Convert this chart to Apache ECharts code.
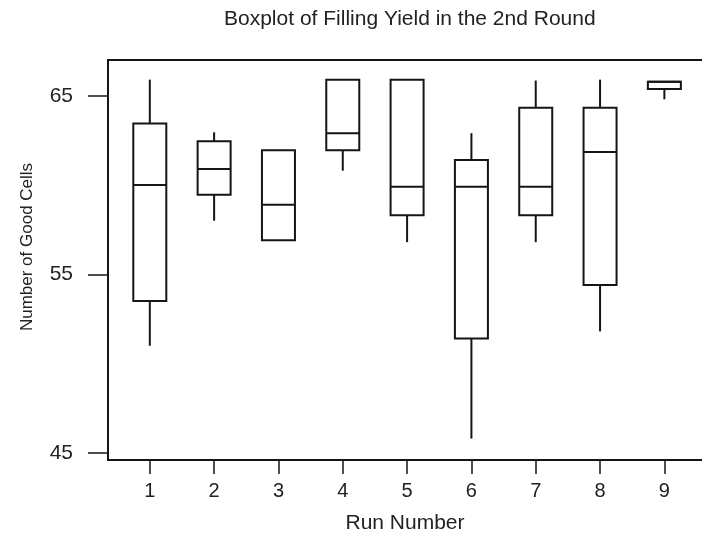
<!DOCTYPE html>
<html><head><meta charset="utf-8">
<script src="https://cdn.jsdelivr.net/npm/echarts@6/dist/echarts.min.js"></script>
<style>html,body{margin:0;padding:0;background:#fff}#c{width:702px;height:540px}</style>
</head><body><div id="c"></div>
<script>
const runs = [1, 2, 3, 4, 5, 6, 7, 8, 9];
const whiskerLow  = [51.0, 58.0, 56.9, 60.8, 56.8, 45.8, 56.8, 51.8, 64.8];
const q1          = [53.5, 59.45, 56.9, 61.95, 58.3, 51.4, 58.3, 54.4, 65.38];
const median      = [60.0, 60.9, 58.9, 62.9, 59.9, 59.9, 59.9, 61.85, 65.78];
const q3          = [63.45, 62.45, 61.95, 65.9, 65.9, 61.4, 64.33, 64.33, 65.78];
const whiskerHigh = [65.9, 62.95, 61.95, 65.9, 65.9, 62.9, 65.85, 65.9, 65.78];
const yTicks = [45, 55, 65];

const ink = '#151515';
const font = 'Liberation Sans';
const data = runs.map((r, i) => [r, whiskerLow[i], q1[i], median[i], q3[i], whiskerHigh[i]]);

function renderItem(params, api) {
  const x = api.value(0);
  const pLow = api.coord([x, api.value(1)]);
  const pQ1 = api.coord([x, api.value(2)]);
  const pMed = api.coord([x, api.value(3)]);
  const pQ3 = api.coord([x, api.value(4)]);
  const pHigh = api.coord([x, api.value(5)]);
  const half = 16.5;
  const st = { stroke: ink, lineWidth: 2, fill: null };
  return {
    type: 'group',
    children: [
      { type: 'line', shape: { x1: pQ3[0], y1: pQ3[1], x2: pHigh[0], y2: pHigh[1] }, style: st },
      { type: 'line', shape: { x1: pLow[0], y1: pLow[1], x2: pQ1[0], y2: pQ1[1] }, style: st },
      { type: 'rect', shape: { x: pQ1[0] - half, y: pQ3[1], width: 2 * half, height: pQ1[1] - pQ3[1] },
        style: { stroke: ink, lineWidth: 2, fill: '#fff' } },
      { type: 'line', shape: { x1: pMed[0] - half, y1: pMed[1], x2: pMed[0] + half, y2: pMed[1] }, style: st }
    ]
  };
}

const chart = echarts.init(document.getElementById('c'), null, { renderer: 'canvas' });
chart.setOption({
  animation: false,
  backgroundColor: '#fff',
  title: {
    text: 'Boxplot of Filling Yield in the 2nd Round',
    left: 219, top: 4,
    textStyle: { fontFamily: font, fontSize: 21, fontWeight: 'normal', color: '#222' }
  },
  grid: { left: 108, top: 60, right: 0, height: 400 },
  xAxis: [{
    type: 'value', min: 0.35, max: 9.585,
    name: 'Run Number', nameLocation: 'middle', nameGap: 53,
    nameTextStyle: { fontFamily: font, fontSize: 21, color: '#222' },
    axisLine: { show: true, lineStyle: { color: ink, width: 2 } },
    axisTick: { show: true, customValues: runs, length: 14, lineStyle: { color: ink, width: 1.5 } },
    axisLabel: { customValues: runs, margin: 21, fontFamily: font, fontSize: 20, color: '#222' },
    splitLine: { show: false }
  }, {
    type: 'value', min: 0.35, max: 9.585, position: 'top',
    axisLine: { show: true, lineStyle: { color: ink, width: 2 } },
    axisTick: { show: false }, axisLabel: { show: false }, splitLine: { show: false }
  }],
  yAxis: {
    type: 'value', min: 44.6, max: 67,
    name: 'Number of Good Cells', nameLocation: 'middle', nameGap: 72, nameRotate: 90,
    nameTextStyle: { fontFamily: font, fontSize: 17, color: '#222', padding: [0, 0, 0, 26] },
    axisLine: { show: true, lineStyle: { color: ink, width: 2 } },
    axisTick: { show: true, customValues: yTicks, length: 20, lineStyle: { color: ink, width: 1.5 } },
    axisLabel: { customValues: yTicks, margin: 35, fontFamily: font, fontSize: 21, color: '#222' },
    splitLine: { show: false }
  },
  series: [{
    type: 'custom',
    renderItem: renderItem,
    encode: { x: 0, y: [1, 2, 3, 4, 5] },
    data: data,
    clip: false
  }]
});
</script>
</body></html>
